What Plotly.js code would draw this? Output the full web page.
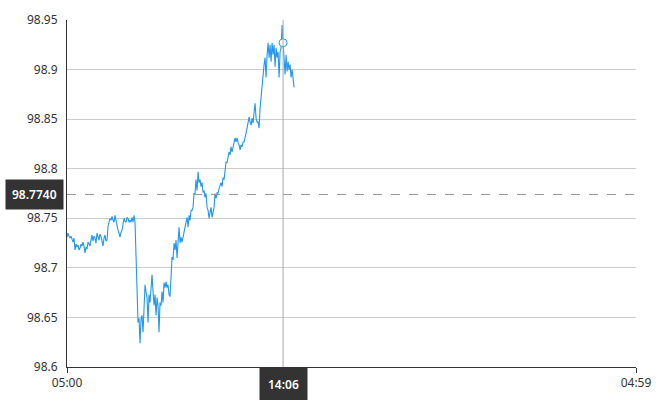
<!DOCTYPE html>
<html>
<head>
<meta charset="utf-8">
<script src="https://cdn.plot.ly/plotly-3.0.1.min.js"></script>
<style>html,body{margin:0;padding:0;background:#fff;}#chart{width:670px;height:400px;}</style>
</head>
<body>
<div id="chart"></div>
<script>
// ---- data ----
const sessionStart = '2024-01-01 05:00';
const sessionEnd = '2024-01-02 04:59';
const sampleStepMinutes = 2.53;
const prices = [
  98.731, 98.735, 98.732, 98.730, 98.732, 98.728, 98.726, 98.730, 98.718, 98.724,
  98.721, 98.723, 98.718, 98.720, 98.724, 98.722, 98.726, 98.722, 98.715, 98.721,
  98.719, 98.726, 98.724, 98.722, 98.728, 98.733, 98.727, 98.732, 98.730, 98.725,
  98.735, 98.730, 98.728, 98.734, 98.732, 98.727, 98.722, 98.730, 98.733, 98.727,
  98.728, 98.742, 98.746, 98.750, 98.748, 98.752, 98.748, 98.746, 98.753, 98.747,
  98.742, 98.738, 98.735, 98.731, 98.736, 98.738, 98.744, 98.750, 98.747, 98.746,
  98.751, 98.750, 98.746, 98.748, 98.746, 98.751, 98.746, 98.753, 98.746, 98.713,
  98.686, 98.645, 98.649, 98.624, 98.649, 98.652, 98.635, 98.662, 98.683, 98.676,
  98.670, 98.645, 98.673, 98.665, 98.680, 98.693, 98.676, 98.662, 98.673, 98.652,
  98.670, 98.662, 98.635, 98.665, 98.662, 98.676, 98.665, 98.685, 98.680, 98.686,
  98.680, 98.683, 98.673, 98.671, 98.691, 98.711, 98.708, 98.725, 98.718, 98.728,
  98.710, 98.731, 98.741, 98.725, 98.731, 98.726, 98.731, 98.735, 98.738, 98.746,
  98.751, 98.741, 98.753, 98.748, 98.758, 98.758, 98.761, 98.775, 98.775, 98.789,
  98.778, 98.797, 98.786, 98.789, 98.782, 98.786, 98.776, 98.778, 98.771, 98.775,
  98.761, 98.758, 98.750, 98.756, 98.761, 98.751, 98.758, 98.761, 98.775, 98.770,
  98.776, 98.775, 98.780, 98.784, 98.786, 98.782, 98.791, 98.789, 98.797, 98.807,
  98.806, 98.814, 98.817, 98.814, 98.822, 98.817, 98.821, 98.824, 98.831, 98.827,
  98.831, 98.826, 98.824, 98.819, 98.824, 98.822, 98.827, 98.827, 98.834, 98.836,
  98.841, 98.847, 98.852, 98.847, 98.844, 98.851, 98.846, 98.857, 98.866, 98.851,
  98.847, 98.847, 98.841, 98.861, 98.874, 98.886, 98.894, 98.905, 98.912, 98.892,
  98.915, 98.927, 98.912, 98.925, 98.908, 98.927, 98.915, 98.925, 98.903, 98.922,
  98.912, 98.918, 98.892, 98.918, 98.922, 98.945, 98.927, 98.912, 98.895, 98.915,
  98.898, 98.908, 98.900, 98.905, 98.892, 98.900, 98.887, 98.882
];
const xTickLabels = ['05:00', '04:59'];
const yTickValues = [98.6, 98.65, 98.7, 98.75, 98.8, 98.85, 98.9, 98.95];
const cursorIndex = 216;
const cursorTimeLabel = '14:06';
const refPrice = 98.774;
const refPriceLabel = '98.7740';

// ---- build timestamps ----
function pad(n){return (n<10?'0':'')+n;}
function fmt(d){
  return d.getUTCFullYear()+'-'+pad(d.getUTCMonth()+1)+'-'+pad(d.getUTCDate())+' '+
    pad(d.getUTCHours())+':'+pad(d.getUTCMinutes())+':'+pad(d.getUTCSeconds());
}
const base = Date.UTC(2024,0,1,5,0,0);
const times = prices.map((_, i) => fmt(new Date(base + Math.round(i*sampleStepMinutes*60)*1000)));
const cursorTime = times[cursorIndex];

const lineColor = '#2196f3';
const font = {family: 'Noto Sans, Open Sans, sans-serif', size: 12, color: '#333'};

const traces = [
  {x: times, y: prices, type: 'scatter', mode: 'lines',
   line: {color: lineColor, width: 1.1}, hoverinfo: 'skip'},
  {x: [cursorTime], y: [prices[cursorIndex]], type: 'scatter', mode: 'markers',
   marker: {symbol: 'circle', size: 8, color: '#ffffff', line: {color: lineColor, width: 1}},
   hoverinfo: 'skip'}
];

const layout = {
  width: 670, height: 400,
  margin: {l: 67, r: 34, t: 20, b: 33},
  paper_bgcolor: '#fff', plot_bgcolor: '#fff',
  showlegend: false,
  font: font,
  xaxis: {
    type: 'date', range: [sessionStart, sessionEnd],
    tickmode: 'array', tickvals: [sessionStart, sessionEnd], ticktext: xTickLabels,
    showgrid: false, zeroline: false,
    showline: true, linecolor: '#333', linewidth: 1,
    ticks: 'outside', ticklen: 5, tickcolor: '#333',
    tickfont: font
  },
  yaxis: {
    range: [98.6, 98.95], tickmode: 'array', tickvals: yTickValues,
    ticktext: yTickValues.map(v => String(v)),
    showgrid: true, gridcolor: '#cccccc', gridwidth: 1, zeroline: false,
    showline: true, linecolor: '#333', linewidth: 1,
    ticks: '', ticklabelstandoff: 6,
    tickfont: font
  },
  shapes: [
    {type: 'line', xref: 'paper', x0: 0, x1: 1, yref: 'y', y0: refPrice, y1: refPrice,
     line: {color: '#999', width: 1, dash: 'dash'}},
    {type: 'line', xref: 'x', x0: cursorTime, x1: cursorTime, yref: 'paper', y0: 0, y1: 1,
     line: {color: '#aaa', width: 1}}
  ],
  annotations: [
    {xref: 'paper', x: 0, xanchor: 'right', xshift: -3, yref: 'y', y: refPrice, yanchor: 'middle',
     text: refPriceLabel, showarrow: false, bgcolor: '#333', borderpad: 6,
     font: {family: font.family, size: 12, color: '#fff', weight: 600}},
    {xref: 'x', x: cursorTime, xanchor: 'center', yref: 'paper', y: 0, yanchor: 'top', yshift: 0,
     text: cursorTimeLabel, showarrow: false, bgcolor: '#333', borderpad: 8,
     font: {family: font.family, size: 12, color: '#fff', weight: 600}}
  ]
};

Plotly.newPlot('chart', traces, layout, {displayModeBar: false, staticPlot: true});
</script>
</body>
</html>
